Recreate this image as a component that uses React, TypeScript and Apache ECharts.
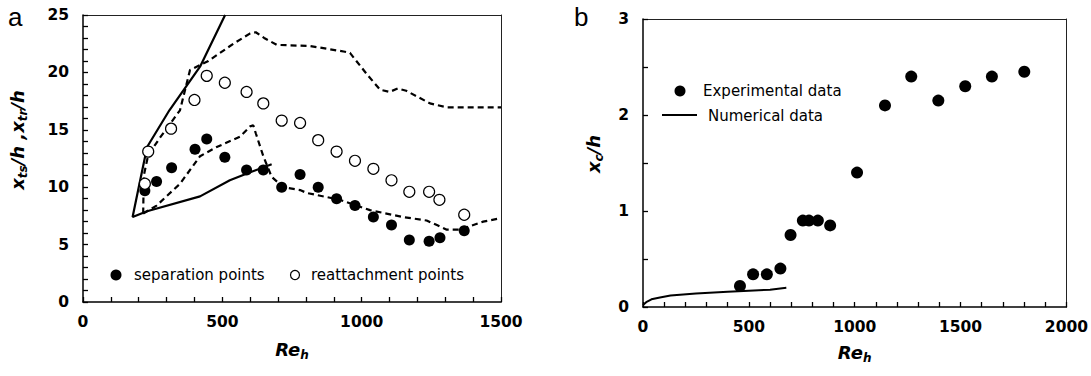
import React, { useEffect, useRef } from "react";
import * as echarts from "echarts";

// ---- Panel a data ----
const sepRe = [222, 264, 318, 402, 444, 509, 587, 647, 713, 779, 844, 910, 976, 1042, 1107, 1171, 1242, 1281, 1368];
const sepX = [9.7, 10.5, 11.7, 13.3, 14.2, 12.6, 11.5, 11.5, 10.0, 11.1, 10.0, 9.0, 8.4, 7.4, 6.7, 5.4, 5.3, 5.6, 6.2];
const reaRe = [222, 234, 316, 400, 444, 509, 587, 647, 713, 779, 844, 910, 976, 1042, 1107, 1171, 1242, 1279, 1368];
const reaX = [10.3, 13.1, 15.1, 17.6, 19.7, 19.1, 18.3, 17.3, 15.8, 15.6, 14.1, 13.1, 12.3, 11.6, 10.6, 9.6, 9.6, 8.9, 7.6];

const solidRe = [677, 600, 527, 420, 230, 178, 200, 230, 310, 420, 510];
const solidX = [12.0, 11.3, 10.6, 9.2, 7.9, 7.4, 10.0, 13.5, 16.7, 20.5, 25.0];

const upperRe = [216, 218, 234, 276, 348, 384, 450, 540, 600, 620, 650, 695, 815, 940, 958, 1020, 1066, 1100, 1130, 1160, 1245, 1305, 1500];
const upperX = [7.7, 11.0, 12.8, 14.3, 16.7, 20.2, 21.0, 22.5, 23.4, 23.5, 23.0, 22.4, 22.3, 21.8, 21.7, 19.8, 18.5, 18.3, 18.6, 18.4, 17.3, 16.96, 16.96];

const lowerRe = [216, 264, 348, 420, 480, 563, 600, 611, 620, 647, 677, 719, 779, 803, 922, 1030, 1149, 1233, 1270, 1305, 1353, 1436, 1500];
const lowerX = [7.7, 8.4, 10.3, 12.7, 13.5, 14.4, 15.3, 15.4, 14.7, 12.7, 10.9, 10.0, 9.75, 9.5, 8.9, 8.0, 7.4, 7.1, 6.7, 6.3, 6.3, 7.0, 7.3];

// ---- Panel b data ----
const expRe = [458, 520, 585, 649, 697, 755, 784, 826, 884, 1011, 1143, 1267, 1395, 1522, 1648, 1801];
const expXc = [0.22, 0.34, 0.34, 0.4, 0.75, 0.9, 0.9, 0.9, 0.85, 1.4, 2.1, 2.4, 2.15, 2.3, 2.4, 2.45];
const numRe = [0, 15, 40, 80, 130, 250, 400, 500, 600, 677];
const numXc = [0.02, 0.05, 0.08, 0.1, 0.12, 0.14, 0.16, 0.17, 0.18, 0.2];

const xTicksA = [0, 500, 1000, 1500];
const yTicksA = [0, 5, 10, 15, 20, 25];
const xTicksB = [0, 500, 1000, 1500, 2000];
const yTicksB = [0, 1, 2, 3];

const zip = (a: number[], b: number[]) => a.map((v, i) => [v, b[i]]);

const FONT = "DejaVu Sans";
const labelStyle = {
  fontFamily: FONT,
  fontWeight: "bold" as const,
  fontSize: 15.5,
  color: "#000",
};

const richName = {
  a: { fontFamily: FONT, fontWeight: "bold", fontStyle: "italic", fontSize: 18, color: "#000", fill: "#000", lineHeight: 18, verticalAlign: "top" },
  s: { fontFamily: FONT, fontWeight: "bold", fontStyle: "italic", fontSize: 12, color: "#000", fill: "#000", lineHeight: 12, padding: [9, 0, 0, 0], verticalAlign: "top" },
};

const tickStyle = { show: true, inside: true, length: 5, lineStyle: { color: "#000", width: 1.3 } };

function axisX(grid: number, max: number, ticks: number[], gap: number) {
  return {
    gridIndex: grid,
    type: "value",
    position: "bottom",
    min: 0,
    max,
    interval: 100,
    axisLine: { show: true, onZero: false, lineStyle: { color: "#000", width: 1.5 } },
    axisTick: tickStyle,
    axisLabel: { ...labelStyle, margin: 12, formatter: (v: number) => (ticks.includes(v) ? String(v) : "") },
    splitLine: { show: false },
    name: "{a|Re}{s|h}",
    nameLocation: "middle",
    nameGap: gap,
    nameTextStyle: { rich: richName },
  };
}

function axisY(grid: number, max: number, interval: number, ticks: number[]) {
  return {
    gridIndex: grid,
    type: "value",
    position: "left",
    min: 0,
    max,
    interval,
    axisLine: { show: true, onZero: false, lineStyle: { color: "#000", width: 1.5 } },
    axisTick: tickStyle,
    axisLabel: {
      ...labelStyle,
      margin: 14,
      formatter: (v: number) => (ticks.some((t) => Math.abs(t - v) < 1e-9) ? String(v) : ""),
    },
    splitLine: { show: false },
  };
}

// Frame lines on top and right
function frameX(grid: number, max: number) {
  return {
    gridIndex: grid, type: "value", position: "top", min: 0, max,
    axisLine: { show: true, onZero: false, lineStyle: { color: "#222", width: 1 } },
    axisTick: { show: false }, axisLabel: { show: false }, splitLine: { show: false },
  };
}
function frameY(grid: number, max: number) {
  return {
    gridIndex: grid, type: "value", position: "right", min: 0, max,
    axisLine: { show: true, onZero: false, lineStyle: { color: "#222", width: 1 } },
    axisTick: { show: false }, axisLabel: { show: false }, splitLine: { show: false },
  };
}

export default function App() {
  const ref = useRef<HTMLDivElement>(null);
  useEffect(() => {
    if (!ref.current) return;
    const chart = echarts.init(ref.current, undefined, { renderer: "svg" });
    const legendText = { fontFamily: FONT, fontSize: 15, fill: "#000", verticalAlign: "middle" };
    chart.setOption({
      animation: false,
      backgroundColor: "#fff",
      grid: [
        { left: 83, top: 15, width: 418, height: 287, show: false },
        { left: 643, top: 19, width: 425, height: 288, show: false },
      ],
      xAxis: [axisX(0, 1500, xTicksA, 38), axisX(1, 2000, xTicksB, 36), frameX(0, 1500), frameX(1, 2000)],
      yAxis: [axisY(0, 25, 1, yTicksA), axisY(1, 3, 0.5, yTicksB), frameY(0, 25), frameY(1, 3)],
      series: [
        {
          type: "line", xAxisIndex: 0, yAxisIndex: 0, data: zip(solidRe, solidX), symbol: "none",
          lineStyle: { color: "#000", width: 2.2 }, z: 2,
        },
        {
          type: "line", xAxisIndex: 0, yAxisIndex: 0, data: zip(upperRe, upperX), symbol: "none",
          lineStyle: { color: "#000", width: 2.2, type: [6, 4] }, z: 2,
        },
        {
          type: "line", xAxisIndex: 0, yAxisIndex: 0, data: zip(lowerRe, lowerX), symbol: "none",
          lineStyle: { color: "#000", width: 2.2, type: [6, 4] }, z: 2,
        },
        {
          type: "scatter", xAxisIndex: 0, yAxisIndex: 0, data: zip(sepRe, sepX), symbol: "circle", symbolSize: 11,
          itemStyle: { color: "#000", opacity: 1 }, z: 3,
        },
        {
          type: "scatter", xAxisIndex: 0, yAxisIndex: 0, data: zip(reaRe, reaX), symbol: "circle", symbolSize: 11,
          itemStyle: { color: "#fff", borderColor: "#000", borderWidth: 1.2, opacity: 1 }, z: 4,
        },
        {
          type: "line", xAxisIndex: 1, yAxisIndex: 1, data: zip(numRe, numXc), symbol: "none",
          lineStyle: { color: "#000", width: 2 }, z: 2,
        },
        {
          type: "scatter", xAxisIndex: 1, yAxisIndex: 1, data: zip(expRe, expXc), symbol: "circle", symbolSize: 12,
          itemStyle: { color: "#000", opacity: 1 }, z: 3,
        },
      ],
      graphic: [
        { type: "text", x: 8, y: 4, style: { text: "a", fontFamily: "Liberation Sans", fontSize: 26, fill: "#000" } },
        { type: "text", x: 574, y: 4, style: { text: "b", fontFamily: "Liberation Sans", fontSize: 26, fill: "#000" } },
        {
          type: "text", x: 17, y: 140, rotation: Math.PI / 2,
          style: { text: "{a|x}{s|ts}{a|/h ,x}{s|tr}{a|/h}", rich: richName, align: "center", verticalAlign: "middle" },
        },
        {
          type: "text", x: 593, y: 154, rotation: Math.PI / 2,
          style: { text: "{a|x}{s|c}{a|/h}", rich: richName, align: "center", verticalAlign: "middle" },
        },
        { type: "circle", shape: { cx: 116, cy: 275, r: 5.5 }, style: { fill: "#000" } },
        { type: "text", x: 134, y: 275, style: { ...legendText, text: "separation points" } },
        { type: "circle", shape: { cx: 295, cy: 275, r: 4.5 }, style: { fill: "#fff", stroke: "#000", lineWidth: 1.2 } },
        { type: "text", x: 311, y: 275, style: { ...legendText, text: "reattachment points" } },
        { type: "circle", shape: { cx: 680, cy: 91, r: 5.5 }, style: { fill: "#000" } },
        { type: "text", x: 703, y: 91, style: { ...legendText, text: "Experimental data" } },
        { type: "line", shape: { x1: 662, y1: 115, x2: 697, y2: 115 }, style: { stroke: "#000", lineWidth: 2 } },
        { type: "text", x: 708, y: 116, style: { ...legendText, text: "Numerical data" } },
      ],
    });
    return () => chart.dispose();
  }, []);
  return <div ref={ref} style={{ position: "fixed", left: 0, top: 0, width: 1091, height: 376 }} />;
}
